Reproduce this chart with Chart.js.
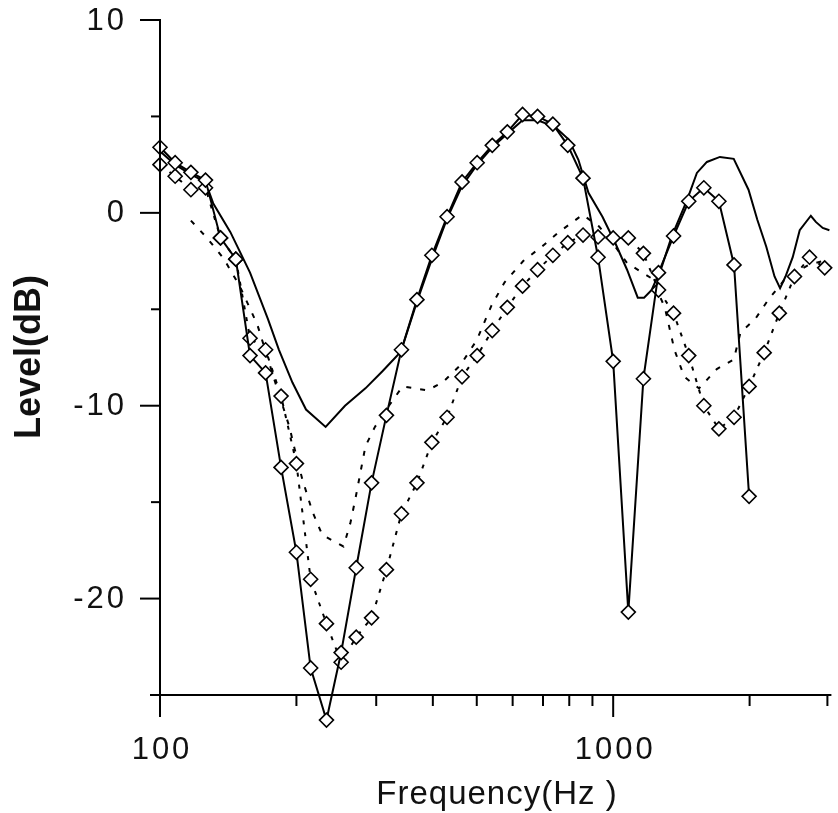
<!DOCTYPE html>
<html>
<head>
<meta charset="utf-8">
<script src="https://cdn.jsdelivr.net/npm/chart.js@4/dist/chart.umd.min.js"></script>
<style>
  html, body { margin: 0; padding: 0; background: #fff; }
  #wrap { width: 838px; height: 813px; }
</style>
</head>
<body>
<div id="wrap"><canvas id="c" width="838" height="813"></canvas></div>
<script>
// ---- data ----
// frequencies of the diamond-marked series (Hz)
const freqK = [100,108,117,126,136,147,158,171,185,200,215,233,251,271,293,316,341,369,398,430,
               464,501,541,584,631,681,736,794,858,926,1000,1080,1166,1259,1359,1468,1585,1711,1848,1995,
               2154,2326,2512,2712,2929];
// solid line with diamonds (deep notches)
const levelSolidDiamond = [3.4,2.6,2.1,1.7,-1.3,-2.4,-7.4,-8.3,-13.2,-17.6,-23.6,-26.3,-22.8,-18.4,-14.0,-10.5,-7.1,-4.5,-2.2,-0.2,
                           1.6,2.6,3.5,4.2,5.1,5.0,4.6,3.5,1.8,-2.3,-7.7,-20.7,-8.6,-3.1,-1.2,0.6,1.3,0.6,-2.7,-14.7];
// dotted line with diamonds
const levelDottedDiamond = [2.5,1.9,1.2,1.3,-1.3,-2.4,-6.5,-7.1,-9.5,-13.0,-19.0,-21.3,-23.3,-22.0,-21.0,-18.5,-15.6,-14.0,-11.9,-10.6,
                            -8.5,-7.4,-6.1,-4.9,-3.8,-2.95,-2.2,-1.55,-1.15,-1.25,-1.3,-1.3,-2.1,-4.0,-5.2,-7.4,-10.0,-11.2,-10.6,-9.0,
                            -7.25,-5.2,-3.3,-2.3,-2.85];
// solid line without markers
const freqSolid  = [100,108,117,126,131,143,158,173,183,196,210,232,256,284,310,340,369,398,430,464,501,541,584,631,681,744,798,838,882,947,1010,1073,1133,1170,1216,1280,1345,1456,1530,1610,1720,1845,1989,2080,2177,2270,2335,2400,2490,2580,2730,2800,2900,3000];
const levelSolid = [3.2,2.5,2.0,1.6,0.5,-1.0,-3.1,-5.5,-7.1,-8.8,-10.2,-11.1,-10.0,-9.1,-8.2,-7.2,-4.6,-2.4,-0.3,1.4,2.5,3.4,4.1,4.8,4.8,4.46,3.8,2.75,1.04,-0.2,-1.55,-2.95,-4.4,-4.4,-4.0,-2.8,-1.24,0.67,2.07,2.64,2.9,2.8,1.2,-0.36,-1.76,-3.3,-3.9,-3.3,-2.3,-0.9,-0.15,-0.47,-0.78,-0.9];
// dashed line without markers
const freqDashed  = [117,127,138,150,164,178,193,198,206,217,228,254,263,270,284,298,320,343,365,389,420,460,500,539,576,633,700,759,856,930,1000,1073,1216,1300,1365,1435,1547,1693,1845,1910,2059,2200,2400,2700,3000];
const levelDashed = [-0.4,-1.3,-2.35,-3.8,-5.8,-8.5,-11.1,-12.2,-13.8,-15.5,-16.7,-17.3,-16.1,-14.8,-12.1,-11.1,-10.0,-9.0,-9.1,-9.2,-8.8,-7.9,-6.6,-4.8,-3.6,-2.5,-1.7,-1.0,-0.1,-0.7,-1.6,-2.6,-3.4,-4.9,-7.1,-8.5,-9.1,-8.1,-7.6,-6.2,-5.5,-4.5,-3.4,-2.7,-2.4];
// axis ticks
const xMajorTicks = [100, 1000];
const xMinorTicks = [200,300,400,500,600,700,800,900,2000,3000];
const yMajorTicks = [10, 0, -10, -20];
const yMinorTicks = [5, -5, -15, -25];
const xTitle = 'Frequency(Hz )';
const yTitle = 'Level(dB)';

function pts(xs, ys) { return ys.map((v, i) => ({ x: xs[i], y: v })); }

// markers lying below the axis (Chart.js skips points outside the chart area)
const outsidePointsPlugin = {
  id: 'outsidePoints',
  afterDatasetsDraw(chart) {
    const { ctx, chartArea } = chart;
    ctx.save();
    chart.data.datasets.forEach((ds, i) => {
      if (!ds.pointRadius) return;
      const meta = chart.getDatasetMeta(i);
      meta.data.forEach(el => {
        if (el.y > chartArea.bottom + 8 || el.y < chartArea.top - 8) {
          Chart.helpers.drawPoint(ctx, {
            pointStyle: ds.pointStyle, radius: ds.pointRadius, rotation: 0,
            borderWidth: ds.pointBorderWidth
          }, el.x, el.y);
          ctx.fillStyle = ds.pointBackgroundColor;
          ctx.strokeStyle = ds.pointBorderColor;
          ctx.lineWidth = ds.pointBorderWidth;
        }
      });
    });
    ctx.restore();
  }
};

const axesPlugin = {
  id: 'axesDraw',
  afterDatasetsDraw(chart) {
    const { ctx, scales: { x, y } } = chart;
    const x0 = x.getPixelForValue(100);
    const yb = y.getPixelForValue(-25);
    const yt = y.getPixelForValue(10);
    ctx.save();
    ctx.strokeStyle = '#000';
    ctx.lineWidth = 2;
    ctx.lineCap = 'butt';
    const line = (a, b, c, d) => { ctx.beginPath(); ctx.moveTo(a, b); ctx.lineTo(c, d); ctx.stroke(); };
    line(x0, yt - 1, x0, yb + 22);
    line(x0 - 10, yb, x.right + 2, yb);
    yMajorTicks.forEach(v => { const p = y.getPixelForValue(v); line(x0 - 20, p, x0, p); });
    yMinorTicks.forEach(v => { const p = y.getPixelForValue(v); line(x0 - 9, p, x0, p); });
    xMajorTicks.forEach(v => { const p = x.getPixelForValue(v); line(p, yb, p, yb + 22); });
    xMinorTicks.forEach(v => { const p = Math.min(x.getPixelForValue(v), x.right - 2); line(p, yb, p, yb + 11); });

    ctx.fillStyle = '#111';
    ctx.font = '31px "Liberation Sans", Arial, sans-serif';
    try { ctx.letterSpacing = '3px'; } catch (e) {}
    ctx.textAlign = 'right';
    ctx.textBaseline = 'middle';
    yMajorTicks.forEach(v => { ctx.fillText(String(v), x0 - 33, y.getPixelForValue(v) + 1); });
    ctx.textAlign = 'center';
    xMajorTicks.forEach(v => { ctx.fillText(String(v), x.getPixelForValue(v) + 2, 750); });

    try { ctx.letterSpacing = '1px'; } catch (e) {}
    ctx.font = '33px "Liberation Sans", Arial, sans-serif';
    ctx.fillText(xTitle, 497, 795);

    try { ctx.letterSpacing = '0px'; } catch (e) {}
    ctx.font = 'bold 36px "Liberation Sans", Arial, sans-serif';
    ctx.translate(30, 357);
    ctx.rotate(-Math.PI / 2);
    ctx.fillText(yTitle, 0, 0);
    ctx.restore();
  }
};

new Chart(document.getElementById('c'), {
  type: 'scatter',
  data: {
    datasets: [
      {
        label: 'solid diamonds',
        data: pts(freqK, levelSolidDiamond),
        showLine: true, borderColor: '#000', borderWidth: 2, clip: false,
        pointStyle: 'rectRot', pointRadius: 7, pointBorderWidth: 1.6,
        pointBackgroundColor: '#fff', pointBorderColor: '#000'
      },
      {
        label: 'dotted diamonds',
        data: pts(freqK, levelDottedDiamond),
        showLine: true, borderColor: '#000', borderWidth: 2, borderDash: [4, 8], clip: false,
        pointStyle: 'rectRot', pointRadius: 7, pointBorderWidth: 1.6,
        pointBackgroundColor: '#fff', pointBorderColor: '#000'
      },
      {
        label: 'solid',
        data: pts(freqSolid, levelSolid),
        showLine: true, borderColor: '#000', borderWidth: 2, pointRadius: 0, clip: false
      },
      {
        label: 'dashed',
        data: pts(freqDashed, levelDashed),
        showLine: true, borderColor: '#000', borderWidth: 2, borderDash: [5, 9], pointRadius: 0, clip: false
      }
    ]
  },
  options: {
    responsive: false,
    devicePixelRatio: 1,
    animation: false,
    layout: { padding: { top: 20, right: 0, left: 0, bottom: 0 } },
    plugins: { legend: { display: false }, tooltip: { enabled: false } },
    elements: { line: { tension: 0 } },
    scales: {
      x: {
        type: 'logarithmic', min: 100, max: 3000,
        grid: { display: false }, border: { display: false },
        ticks: { display: false },
        afterFit(s) { s.height = 118; }
      },
      y: {
        type: 'linear', min: -25, max: 10,
        grid: { display: false }, border: { display: false },
        ticks: { display: false },
        afterFit(s) { s.width = 160; }
      }
    }
  },
  plugins: [axesPlugin, outsidePointsPlugin]
});
</script>
</body>
</html>
